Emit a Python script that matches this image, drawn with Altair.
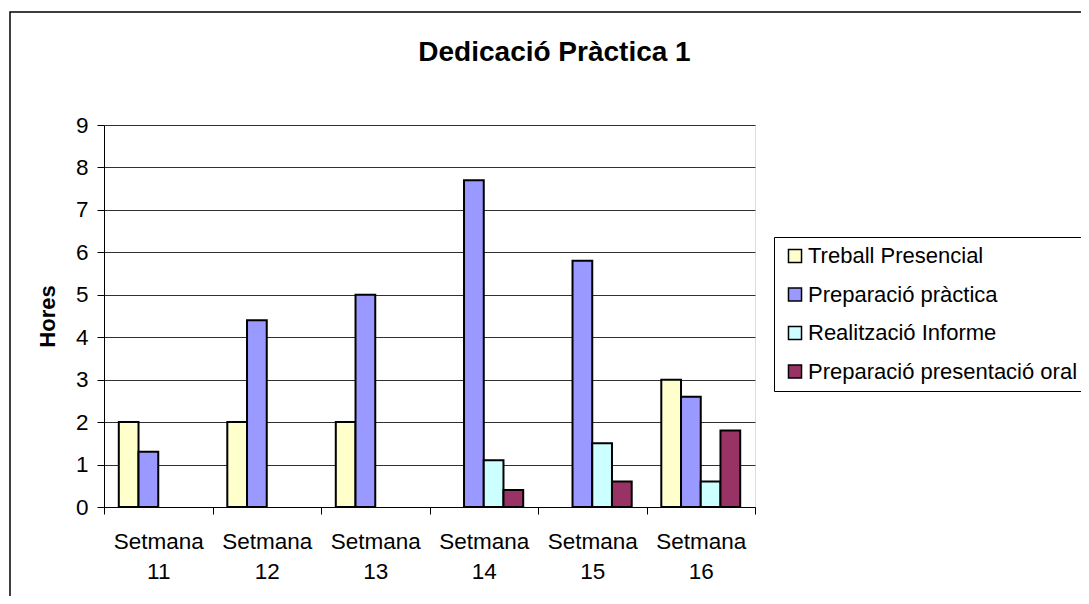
import altair as alt
import pandas as pd

weeks = ["Setmana 11", "Setmana 12", "Setmana 13", "Setmana 14", "Setmana 15", "Setmana 16"]
series = ["Treball Presencial", "Preparació pràctica", "Realització Informe", "Preparació presentació oral"]
treball = [2, 2, 2, None, None, 3]
preparacio = [1.3, 4.4, 5, 7.7, 5.8, 2.6]
informe = [None, None, None, 1.1, 1.5, 0.6]
oral = [None, None, None, 0.4, 0.6, 1.8]
colors = ["#FFFFCC", "#9999FF", "#CCFFFF", "#993366"]
y_ticks = list(range(0, 10))

rows = []
for s, vals in zip(series, [treball, preparacio, informe, oral]):
    for w, v in zip(weeks, vals):
        if v is not None:
            rows.append({"Setmana": w, "Serie": s, "Hores": v})
df = pd.DataFrame(rows)

FONT = "Liberation Sans"
FS = 22.5

bars = alt.Chart(df).mark_bar(stroke="black", strokeWidth=2).encode(
    x=alt.X("Setmana:N", sort=weeks,
            scale=alt.Scale(domain=weeks, paddingInner=0, paddingOuter=0),
            axis=alt.Axis(title=None, labelAngle=0, tickBand="extent", tickSize=7,
                          tickColor="black", domainColor="black", domainWidth=1,
                          labelExpr="split(datum.label, ' ')", labelLineHeight=30,
                          labelPadding=16, labelFont=FONT, labelFontSize=FS,
                          labelColor="black", labelBaseline="top", grid=False)),
    xOffset=alt.XOffset("Serie:N", sort=series,
                        scale=alt.Scale(domain=series, paddingInner=0, paddingOuter=0.75)),
    y=alt.Y("Hores:Q", scale=alt.Scale(domain=[0, 9], nice=False),
            axis=alt.Axis(title="Hores", values=y_ticks, tickSize=7, tickColor="black",
                          domainColor="black", labelPadding=9, labelFont=FONT,
                          labelFontSize=FS, labelColor="black", grid=True,
                          gridColor="#303030", gridWidth=1,
                          titleFont=FONT, titleFontSize=22, titleFontWeight="bold",
                          titleColor="black", titleAngle=-90, titleX=-57, titleY=191,
                          titleAlign="center", titleBaseline="middle")),
    color=alt.Color("Serie:N", sort=series,
                    scale=alt.Scale(domain=series, range=colors),
                    legend=alt.Legend(title=None, orient="none", legendX=670, legendY=112,
                                      strokeColor="black", fillColor="white", padding=8,
                                      symbolType="square", symbolSize=170,
                                      symbolStrokeColor="black", symbolStrokeWidth=1.5,
                                      symbolOffset=2, labelOffset=2,
                                      labelFont=FONT, labelFontSize=22, labelColor="black",
                                      labelLimit=0, rowPadding=16.5)),
)

frame = alt.Chart(alt.Data(values=[{"a": 1}])).mark_rect(
    filled=False, stroke="black", strokeWidth=1.5
).encode(
    x=alt.value(-94), x2=alt.value(1200), y=alt.value(-113), y2=alt.value(700)
)

chart = alt.layer(frame, bars).properties(
    width=651, height=382,
    title=alt.TitleParams("Dedicació Pràctica 1", font=FONT, fontSize=28, fontWeight="bold",
                          color="black", anchor="middle", frame="group", baseline="alphabetic",
                          dx=125, dy=78, offset=0),
    autosize=alt.AutoSizeParams(type="none"),
    padding={"left": 96, "top": 117, "right": 326, "bottom": 89},
).configure_view(
    stroke="#808080", fill="#C0C0C0"
).configure(background="white")

chart.save("out.html", embed_options={"renderer": "svg", "actions": False})
